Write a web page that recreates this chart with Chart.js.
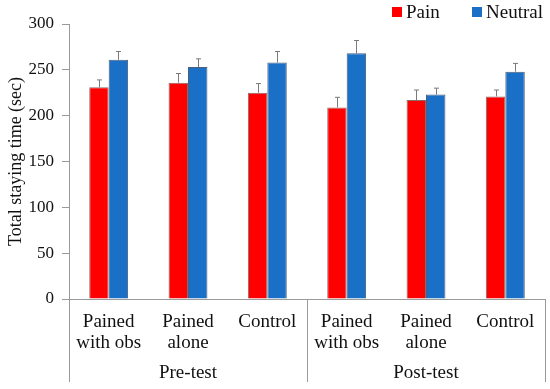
<!DOCTYPE html>
<html>
<head>
<meta charset="utf-8">
<script src="https://cdn.jsdelivr.net/npm/chart.js@4.4.0/dist/chart.umd.min.js"></script>
<style>
  html, body { margin: 0; padding: 0; background: #fff; }
  #wrap { width: 550px; height: 389px; position: relative; }
</style>
</head>
<body>
<div id="wrap"><canvas id="myChart"></canvas></div>
<script>
// categories, grouped by test phase
var categories = [['Pained', 'with obs'], ['Pained', 'alone'], ['Control'],
                  ['Pained', 'with obs'], ['Pained', 'alone'], ['Control']]
var groups = ['Pre-test', 'Post-test']

var painValues = [231, 236, 225, 209, 217, 221]
var painErrors = [8, 10, 10, 11, 11, 7]
var neutralValues = [261, 253, 258, 268, 223, 248]
var neutralErrors = [9, 9, 12, 14, 7, 9]

var yTicks = [0, 50, 100, 150, 200, 250, 300]

var serif = '"Liberation Serif", "Times New Roman", serif'
var axisGray = '#9a9a9a'

var errorBars = {
  id: 'errorBars',
  afterDatasetsDraw(chart) {
    var ctx = chart.ctx
    var y = chart.scales.y
    var errs = [painErrors, neutralErrors]
    ctx.save()
    ctx.strokeStyle = '#7a7a7a'
    ctx.lineWidth = 1
    chart.data.datasets.forEach(function (ds, i) {
      chart.getDatasetMeta(i).data.forEach(function (bar, j) {
        var x = Math.round(bar.x) + 0.5
        var top = y.getPixelForValue(ds.data[j] + errs[i][j])
        ctx.beginPath()
        ctx.moveTo(x, bar.y)
        ctx.lineTo(x, top)
        ctx.moveTo(x - 2.5, top)
        ctx.lineTo(x + 2.5, top)
        ctx.stroke()
      })
    })
    ctx.restore()
  }
}

var groupAxis = {
  id: 'groupAxis',
  afterDraw(chart) {
    var ctx = chart.ctx
    var x = chart.scales.x
    var area = chart.chartArea
    var bottom = 382
    var mid = (x.getPixelForValue(2) + x.getPixelForValue(3)) / 2
    ctx.save()
    ctx.strokeStyle = axisGray
    ctx.lineWidth = 1
    ;[area.left, mid, area.right].forEach(function (px) {
      var xx = Math.round(px) + 0.5
      ctx.beginPath()
      ctx.moveTo(xx, area.bottom)
      ctx.lineTo(xx, bottom)
      ctx.stroke()
    })
    ctx.fillStyle = '#111'
    ctx.font = '19px ' + serif
    ctx.textAlign = 'center'
    ctx.textBaseline = 'middle'
    ctx.fillText(groups[0], x.getPixelForValue(1), 373)
    ctx.fillText(groups[1], x.getPixelForValue(4), 373)

    // legend
    var items = [['Pain', '#ff0000', 392], ['Neutral', '#1a6fc7', 472]]
    ctx.textAlign = 'left'
    items.forEach(function (it) {
      ctx.fillStyle = it[1]
      ctx.fillRect(it[2], 7, 10, 10)
      ctx.fillStyle = '#111'
      ctx.fillText(it[0], it[2] + 14, 13)
    })
    ctx.restore()
  }
}

var chart = new Chart(document.getElementById('myChart'), {
  type: 'bar',
  data: {
    labels: categories,
    datasets: [
      {
        label: 'Pain',
        data: painValues,
        backgroundColor: '#ff0000',
        borderColor: '#8a6a6a',
        borderWidth: 1
      },
      {
        label: 'Neutral',
        data: neutralValues,
        backgroundColor: '#1a6fc7',
        borderColor: '#4a5f7a',
        borderWidth: 1
      }
    ]
  },
  options: {
    responsive: true,
    maintainAspectRatio: false,
    animation: false,
    layout: { padding: { top: 24, right: 5, left: 0, bottom: 0 } },
    categoryPercentage: 0.49,
    barPercentage: 1,
    plugins: {
      legend: { display: false },
      tooltip: { enabled: false }
    },
    scales: {
      x: {
        grid: { display: false },
        border: { color: axisGray },
        ticks: {
          color: '#111',
          font: { family: serif, size: 19, lineHeight: 1.1 },
          padding: 5,
          maxRotation: 0,
          autoSkip: false
        },
        afterFit(scale) { scale.height = 90 }
      },
      y: {
        min: 0,
        max: 300,
        afterBuildTicks(scale) {
          scale.ticks = yTicks.map(function (v) { return { value: v } })
        },
        grid: { drawOnChartArea: false, drawTicks: true, tickLength: 7, color: axisGray },
        border: { color: axisGray },
        ticks: {
          color: '#111',
          font: { family: serif, size: 17 },
          padding: 8
        },
        title: {
          display: true,
          text: 'Total staying time (sec)',
          color: '#111',
          font: { family: serif, size: 18 },
          padding: { top: 5, bottom: 0 }
        },
        afterFit(scale) { scale.width = 69 }
      }
    }
  },
  plugins: [errorBars, groupAxis]
})
</script>
</body>
</html>
